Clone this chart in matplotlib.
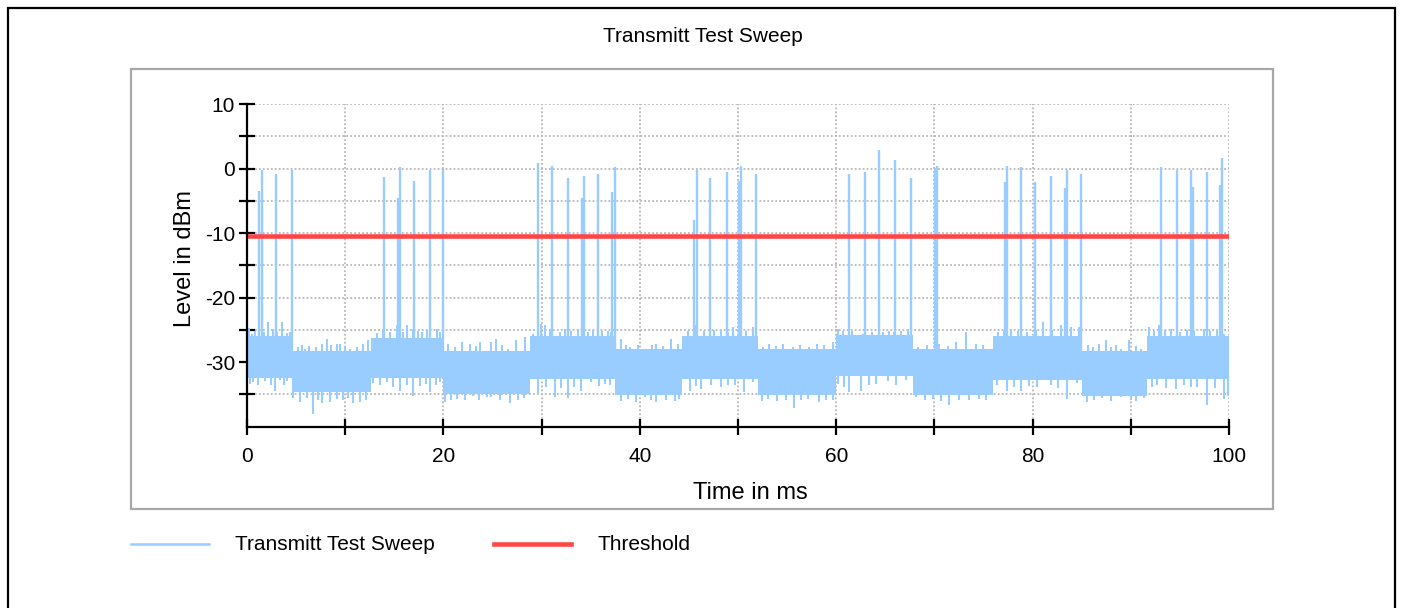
import numpy as np
import matplotlib
matplotlib.use("Agg")
import matplotlib.pyplot as plt
from matplotlib.lines import Line2D
from matplotlib.patches import Rectangle

plt.rcParams['font.family'] = ['Liberation Sans', 'DejaVu Sans']

# ---------------- data ----------------
title = "Transmitt Test Sweep"
x_label = "Time in ms"
y_label = "Level in dBm"
series_label = "Transmitt Test Sweep"
threshold_label = "Threshold"

threshold_level = -10.5

x_ticks = [0, 10, 20, 30, 40, 50, 60, 70, 80, 90, 100]
x_tick_labels = ["0", "", "20", "", "40", "", "60", "", "80", "", "100"]
y_ticks = [-35, -30, -25, -20, -15, -10, -5, 0, 5, 10]
y_tick_labels = ["", "-30", "", "-20", "", "-10", "", "0", "", "10"]

# noise floor segments (ms) and dense band limits (dBm)
seg_bounds = [0, 4.7, 12.6, 20.0, 28.8, 37.5, 44.3, 52.0, 60.0, 67.8, 76.0, 85.0, 91.7, 100]
seg_top = [-26.0, -28.3, -26.2, -28.2, -25.9, -28.0, -26.0, -28.0, -25.8, -28.0, -26.0, -28.2, -25.9]
seg_bot = [-32.4, -34.6, -32.4, -34.9, -32.6, -35.1, -32.6, -35.1, -32.2, -35.1, -32.8, -35.3, -32.6]

# noise excursions above the band
noise_up_x = [0.10, 0.24, 0.50, 0.81, 1.70, 2.10, 2.68, 3.10, 3.53, 4.04, 4.40,
              5.23, 5.60, 5.91, 6.30, 7.00, 7.60, 8.18, 8.60, 9.13, 9.47, 10.00, 10.49, 11.17, 11.85, 12.36,
              13.20, 13.88, 14.60, 15.24, 15.90, 16.26, 16.94, 17.40, 17.79, 18.30, 19.31, 19.70,
              20.50, 21.20, 21.86, 22.71, 23.30, 23.73, 24.88, 25.39, 26.00, 26.58, 27.43, 28.27, 29.12,
              29.97, 30.31, 30.90, 31.84, 32.35, 33.00, 33.70, 34.72, 35.20, 35.74, 36.20, 36.76, 37.10,
              38.12, 38.60, 38.97, 39.80, 40.66, 41.20, 41.68, 42.40, 43.21, 43.89,
              44.91, 45.59, 46.50, 47.60, 48.30, 49.00, 49.49, 50.14, 50.80, 51.50,
              52.52, 53.19, 53.90, 54.55, 55.57, 56.30, 57.27, 58.00, 58.80, 59.64,
              60.15, 60.66, 61.60, 62.70, 63.60, 64.74, 65.40, 65.92, 66.60, 67.28,
              68.30, 69.20, 70.51, 71.40, 72.20, 73.22, 74.24, 74.90, 75.39,
              76.50, 77.09, 77.77, 78.50, 79.46, 80.30, 81.09, 82.00, 82.86, 83.88, 84.72,
              85.60, 86.20, 86.76, 87.44, 87.95, 88.50, 88.97, 89.82, 90.50, 91.00,
              91.85, 92.40, 92.87, 93.50, 94.06, 95.00, 95.70, 96.44, 97.45, 98.10, 98.81, 99.50]
noise_up_y = [-24.9, -24.7, -25.6, -25.2, -25.4, -23.8, -24.9, -25.3, -23.8, -25.5, -25.4,
              -27.6, -27.4, -27.9, -27.5, -27.6, -27.2, -26.4, -27.4, -27.2, -27.2, -27.5, -28.0, -27.7, -27.2, -26.6,
              -25.5, -25.1, -25.4, -24.3, -25.3, -24.3, -24.9, -25.2, -25.4, -25.0, -24.9, -25.4,
              -27.2, -27.6, -26.9, -27.2, -27.5, -26.9, -26.9, -26.4, -27.4, -28.0, -26.6, -26.1, -25.6,
              -24.1, -24.3, -25.0, -25.4, -24.9, -25.1, -24.9, -25.4, -25.0, -25.6, -25.2, -25.1, -25.3,
              -26.4, -27.3, -27.6, -27.3, -27.9, -27.4, -27.2, -27.5, -26.4, -27.2,
              -25.1, -24.3, -25.2, -25.0, -24.9, -25.3, -24.6, -24.3, -25.1, -24.6,
              -27.7, -27.2, -27.5, -27.2, -27.7, -27.3, -27.7, -27.2, -27.4, -26.9,
              -24.9, -25.1, -25.2, -25.6, -25.3, -25.4, -25.1, -25.4, -25.2, -24.9,
              -27.7, -27.4, -27.2, -27.5, -26.9, -25.4, -27.2, -27.4, -27.9,
              -25.3, -25.1, -24.9, -25.2, -25.4, -25.0, -23.8, -25.0, -24.3, -24.6, -24.6,
              -27.4, -27.6, -27.2, -26.6, -27.7, -27.3, -27.9, -26.6, -27.5, -28.0,
              -24.6, -25.2, -24.3, -25.0, -24.9, -25.3, -25.0, -25.1, -24.9, -25.2, -25.1, -25.6]

# noise excursions below the band
noise_dn_x = [0.30, 0.64, 1.15, 1.83, 2.40, 2.85, 3.36, 3.80, 4.04,
              4.72, 5.40, 6.10, 6.75, 7.20, 7.60, 8.45, 9.13, 9.80, 10.30, 10.83, 11.51, 12.10,
              12.86, 13.50, 14.22, 14.90, 15.58, 16.30, 16.94, 17.60, 18.20, 18.63, 19.20, 19.65,
              20.16, 20.80, 21.35, 22.20, 23.05, 23.60, 24.41, 24.88, 25.80, 26.75, 27.60, 28.20, 28.60,
              29.63, 30.40, 31.33, 32.00, 32.69, 33.30, 34.04, 35.06, 35.80, 36.42, 37.00,
              38.10, 38.80, 39.60, 40.49, 41.10, 41.68, 42.70, 43.55, 44.00,
              45.08, 45.70, 46.26, 47.20, 48.30, 49.00, 49.66, 50.65, 51.50,
              52.40, 53.02, 54.00, 54.89, 55.74, 56.40, 57.10, 58.20, 58.97, 59.64,
              60.15, 60.80, 61.34, 62.53, 63.30, 64.06, 65.24, 66.10, 67.11,
              68.13, 69.00, 69.83, 70.70, 71.52, 72.50, 73.56, 74.58, 75.22,
              76.41, 77.43, 78.10, 78.78, 79.60, 80.48, 81.84, 82.60, 83.54, 84.55,
              85.57, 86.30, 87.10, 88.00, 88.97, 89.99, 90.49, 91.34,
              92.20, 92.70, 93.60, 94.57, 95.42, 96.10, 96.78, 97.79, 98.60, 99.49, 99.90]
noise_dn_y = [-33.4, -33.1, -33.6, -32.9, -33.5, -34.4, -32.8, -33.6, -32.9,
              -35.5, -36.2, -35.6, -38.0, -35.8, -36.4, -36.2, -35.7, -35.9, -35.6, -36.4, -36.2, -35.8,
              -33.2, -33.5, -33.1, -33.8, -34.4, -33.6, -35.2, -33.7, -33.4, -34.6, -33.5, -33.1,
              -36.2, -35.8, -35.7, -35.9, -35.2, -35.8, -35.4, -35.4, -35.9, -36.4, -35.8, -35.6, -34.4,
              -34.9, -33.9, -35.4, -34.0, -35.5, -33.8, -34.4, -33.1, -33.7, -33.4, -33.6,
              -36.0, -35.7, -36.1, -35.4, -35.9, -36.2, -35.8, -36.0, -35.7,
              -34.4, -33.7, -34.1, -33.6, -33.9, -33.5, -33.6, -34.6, -33.1,
              -36.0, -35.7, -36.0, -35.9, -37.1, -35.8, -35.7, -36.1, -35.8, -35.9,
              -33.4, -33.8, -34.6, -34.4, -33.6, -33.4, -32.9, -33.5, -32.8,
              -35.4, -35.9, -35.7, -36.0, -36.7, -35.8, -35.9, -35.7, -35.8,
              -33.6, -34.4, -33.8, -34.5, -33.7, -33.9, -33.6, -34.0, -35.7, -33.2,
              -36.2, -35.8, -35.5, -36.0, -35.4, -35.8, -36.0, -35.5,
              -33.9, -33.6, -34.0, -34.1, -33.6, -33.8, -33.9, -36.7, -34.0, -35.7, -35.2]

# transmit bursts (ms, peak dBm)
burst_x = [1.25, 1.50, 2.92, 4.58,
           13.95, 15.34, 15.58, 17.00, 18.63, 19.99,
           29.67, 31.09, 32.72, 34.15, 34.35, 35.78, 37.20, 37.44,
           45.55, 45.79, 47.18, 48.85, 50.10, 50.27, 51.87,
           61.30, 62.90, 64.36, 65.99, 67.58,
           70.10, 70.25,
           77.20, 77.40, 78.85, 80.25, 81.90, 83.30, 83.50, 84.96,
           93.10, 94.70, 96.10, 96.37, 97.80, 99.10, 99.26]
burst_y = [-3.5, -0.2, -0.8, -0.2,
           -1.3, -4.5, 0.3, -2.0, -0.2, 0.0,
           0.8, 0.4, -1.4, -4.6, -1.1, -0.8, -3.6, 0.2,
           -8.0, -0.2, -1.4, -0.5, -2.0, 0.4, -0.8,
           -0.8, -0.5, 2.9, 1.4, -1.4,
           0.0, 0.4,
           -2.1, 0.4, 0.2, -2.1, -1.1, -3.0, -0.2, -0.8,
           0.2, -0.2, -0.2, -2.8, -0.5, -2.5, 1.7]

# ---------------- styles ----------------
BLUE = '#99ccff'
RED = '#ff4646'
W, H = 1402, 608

fig = plt.figure(figsize=(W / 100, H / 100), dpi=100)

# outer black frame and inner grey panel
fig.add_artist(Rectangle((8 / W, -0.2), (1395 - 8) / W, 1.2 - 8 / H,
                         transform=fig.transFigure, fill=False,
                         edgecolor='black', lw=1.6, clip_on=False))
fig.add_artist(Rectangle((131 / W, 1 - 509 / H), (1273 - 131) / W, (509 - 69) / H,
                         transform=fig.transFigure, fill=False,
                         edgecolor='#a8a8a8', lw=1.6))

ax = fig.add_axes([247 / W, 1 - 426.7 / H, 982 / W, (426.7 - 104) / H])
ax.set_xlim(0, 100)
ax.set_ylim(-40, 10)

ax.set_axisbelow(True)
ax.grid(True, color='#b8b8b8', linestyle=(0, (1, 1.2)), lw=1.3)

# noise band
ax.fill_between(seg_bounds, seg_top + [seg_top[-1]], seg_bot + [seg_bot[-1]],
                step='post', color=BLUE, lw=0, zorder=2)
ax.vlines(noise_up_x, -30, noise_up_y, color=BLUE, lw=1.5, zorder=2)
ax.vlines(noise_dn_x, -30, noise_dn_y, color=BLUE, lw=1.5, zorder=2)
ax.vlines(burst_x, -30, burst_y, color=BLUE, lw=1.7, zorder=2)

# threshold
ax.axhline(threshold_level, color=RED, lw=3.3, zorder=3)

for s in ['top', 'right']:
    ax.spines[s].set_visible(False)
for s in ['left', 'bottom']:
    ax.spines[s].set_color('black')
    ax.spines[s].set_linewidth(1.6)
    ax.spines[s].set_zorder(4)

ax.set_xticks(x_ticks)
ax.set_xticklabels(x_tick_labels)
ax.set_yticks(y_ticks)
ax.set_yticklabels(y_tick_labels)
ax.tick_params(axis='both', direction='inout', length=11, width=1.6,
               colors='black', labelsize=15)
ax.tick_params(axis='x', pad=9)
ax.tick_params(axis='y', pad=3)

# texts
fig.text(703 / W, 1 - 36 / H, title, ha='center', va='center', fontsize=15)
fig.text(750 / W, 1 - 493 / H, x_label, ha='center', va='center', fontsize=17)
fig.text(185 / W, 1 - 259 / H, y_label, ha='center', va='center',
         fontsize=17, rotation=90)

# legend
ly = 1 - 544 / H
fig.add_artist(Line2D([131 / W, 209 / W], [ly, ly], color=BLUE, lw=1.8,
                      transform=fig.transFigure))
fig.text(235 / W, ly, series_label, ha='left', va='center', fontsize=15)
fig.add_artist(Line2D([494 / W, 571 / W], [ly, ly], color=RED, lw=3.3,
                      transform=fig.transFigure))
fig.text(597 / W, ly, threshold_label, ha='left', va='center', fontsize=15)

fig.savefig('out.png', dpi=100, facecolor='white')
